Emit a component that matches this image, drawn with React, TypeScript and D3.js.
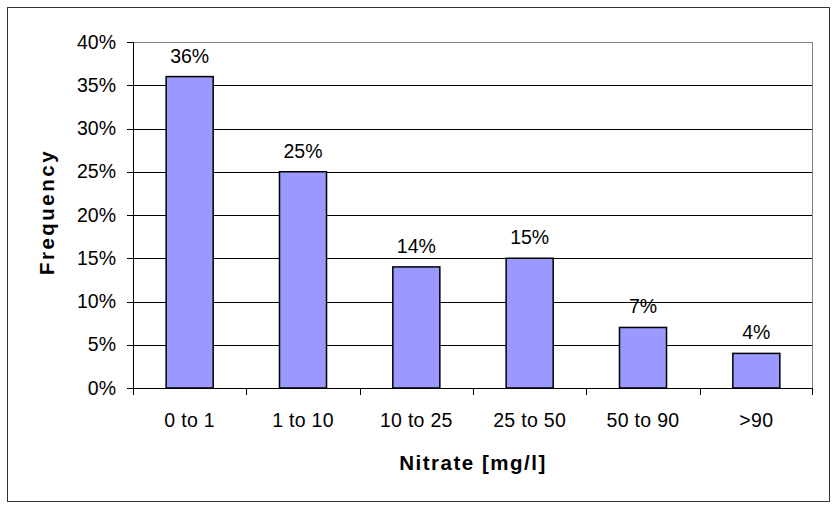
import React from "react";
import * as d3 from "d3";

const categories = ["0 to 1", "1 to 10", "10 to 25", "25 to 50", "50 to 90", ">90"];
const values = [36, 25, 14, 15, 7, 4];
const yTicks = [0, 5, 10, 15, 20, 25, 30, 35, 40];
const xTitle = "Nitrate [mg/l]";
const yTitle = "Frequency";

export default function App() {
  const W = 840, H = 511;
  const left = 133, right = 813, top = 42, bottom = 388;
  const x = d3.scaleBand().domain(categories).range([left, right]).paddingInner(0.585).paddingOuter(0.2925);
  const xb = d3.scaleBand().domain(categories).range([left, right]);
  const y = d3.scaleLinear().domain([0, 40]).range([bottom, top]);
  const font = "Arial, 'Liberation Sans', sans-serif";
  return (
    <svg width={W} height={H} style={{ position: "absolute", left: 0, top: 0 }} fontFamily={font}>
      <rect x={0} y={0} width={W} height={H} fill="white" />
      <rect x={7.5} y={7.5} width={822} height={494} fill="white" stroke="#333" strokeWidth={1} />
      {/* plot border top/right */}
      <line x1={left} x2={right} y1={top + 0.5} y2={top + 0.5} stroke="#808080" />
      <line x1={right - 0.5} x2={right - 0.5} y1={top} y2={bottom} stroke="#808080" />
      {yTicks.filter((t) => t > 0 && t < 40).map((t) => (
        <line key={t} x1={left} x2={right - 1} y1={Math.round(y(t)) + 0.5} y2={Math.round(y(t)) + 0.5} stroke="black" />
      ))}
      {categories.map((c, i) => (
        <rect key={c} x={x(c)!} y={y(values[i])} width={x.bandwidth()} height={bottom - y(values[i])}
          fill="#9999FF" stroke="black" strokeWidth={1.5} />
      ))}
      {categories.map((c, i) => (
        <text key={"l" + c} x={x(c)! + x.bandwidth() / 2} y={y(values[i]) - 14} textAnchor="middle" fontSize={19.5}>
          {values[i]}%
        </text>
      ))}
      {/* y axis */}
      <line x1={left + 0.5} x2={left + 0.5} y1={top} y2={bottom} stroke="black" />
      {yTicks.map((t) => (
        <g key={"yt" + t}>
          <line x1={left - 6} x2={left} y1={Math.round(y(t)) + 0.5} y2={Math.round(y(t)) + 0.5} stroke="black" />
          <text x={116} y={y(t) + 6.5} textAnchor="end" fontSize={19.5}>{t}%</text>
        </g>
      ))}
      {/* x axis */}
      <line x1={left} x2={right} y1={bottom + 0.5} y2={bottom + 0.5} stroke="black" />
      {categories.map((c, i) => (
        <line key={"xt" + c} x1={Math.round(xb(c)!) + 0.5} x2={Math.round(xb(c)!) + 0.5} y1={bottom} y2={bottom + 7} stroke="black" />
      ))}
      <line x1={right - 0.5} x2={right - 0.5} y1={bottom} y2={bottom + 7} stroke="black" />
      {categories.map((c) => (
        <text key={"xl" + c} x={xb(c)! + xb.bandwidth() / 2} y={427} textAnchor="middle" fontSize={19.5} letterSpacing={0.3}>
          {c}
        </text>
      ))}
      <text x={473} y={470} textAnchor="middle" fontSize={20.5} fontWeight="bold" letterSpacing={1.5}>{xTitle}</text>
      <text transform="translate(54,212) rotate(-90)" textAnchor="middle" fontSize={20.5} fontWeight="bold" letterSpacing={2.5}>
        {yTitle}
      </text>
    </svg>
  );
}
